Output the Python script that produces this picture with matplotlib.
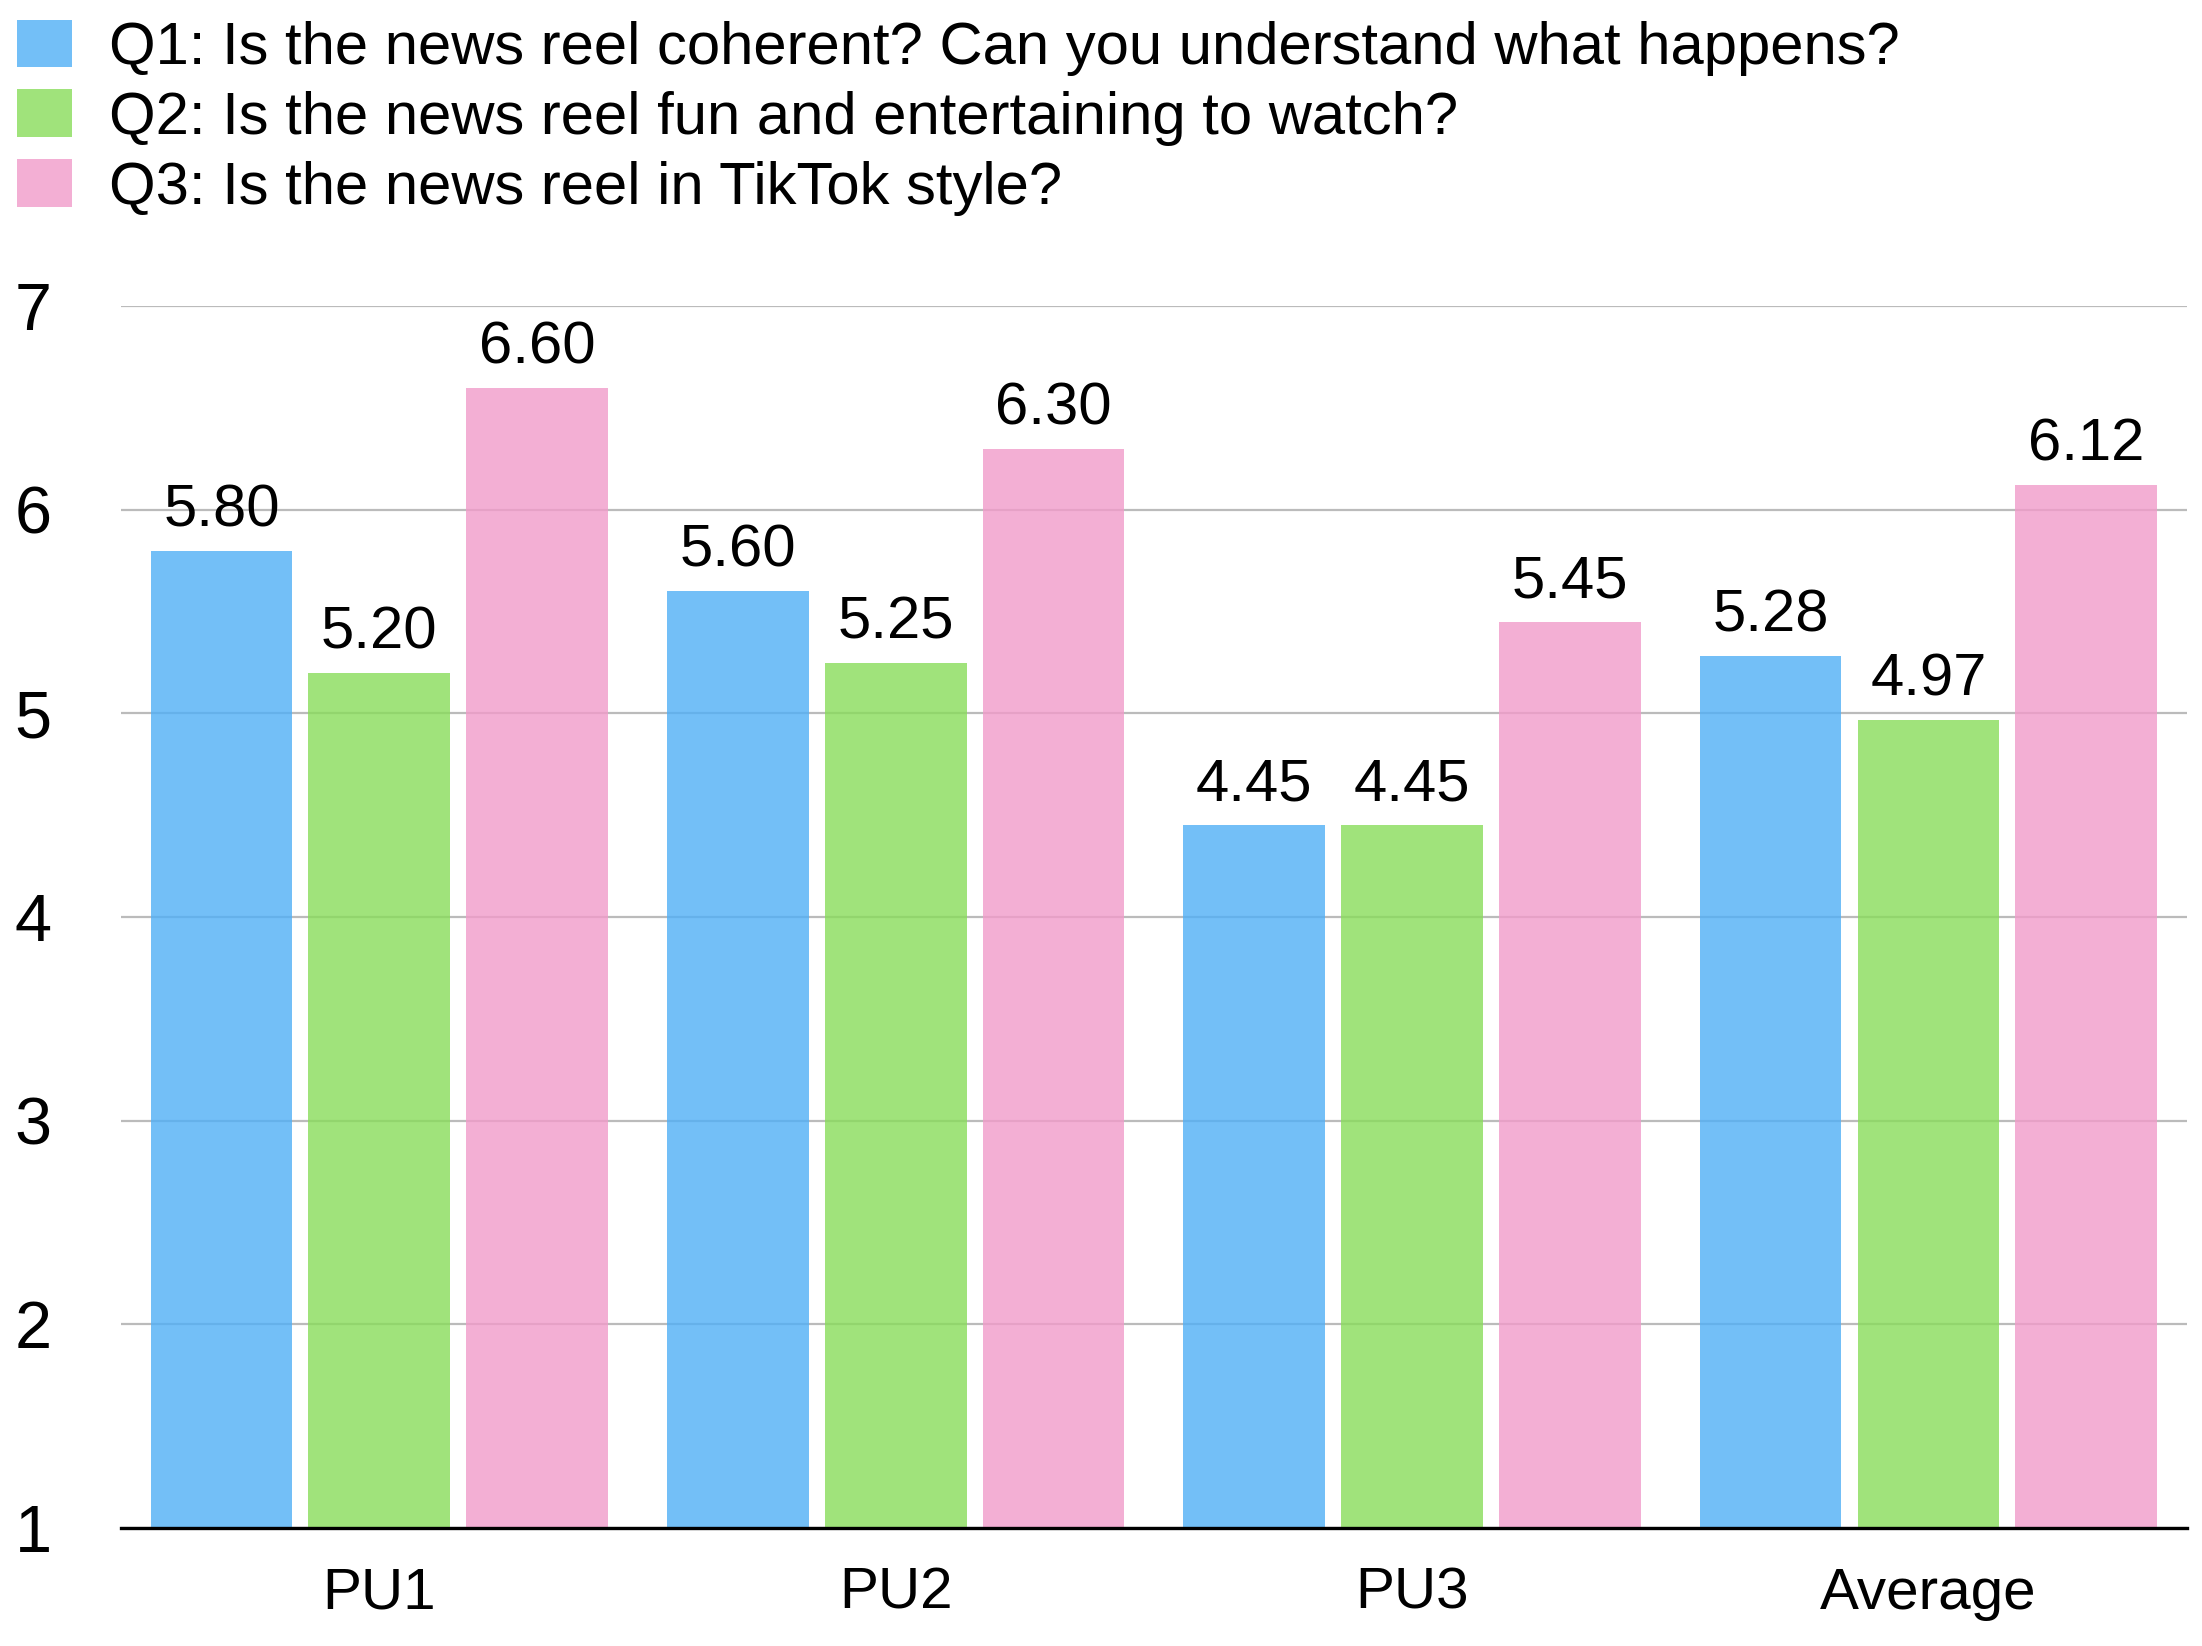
import numpy as np
import matplotlib.pyplot as plt

plt.rcParams['font.family'] = ['Liberation Sans', 'DejaVu Sans']

categories = ['PU1', 'PU2', 'PU3', 'Average']
q1_scores = [5.80, 5.60, 4.45, 5.28]
q2_scores = [5.20, 5.25, 4.45, 4.97]
q3_scores = [6.60, 6.30, 5.45, 6.12]
series_labels = [
    'Q1: Is the news reel coherent? Can you understand what happens?',
    'Q2: Is the news reel fun and entertaining to watch?',
    'Q3: Is the news reel in TikTok style?',
]
y_ticks = [1, 2, 3, 4, 5, 6, 7]

# slightly see-through bars, so the grid shows faintly through them
colors = ['#50AFF6', '#88DC5A', '#F19BCA']

fig = plt.figure(figsize=(11.01, 8.23), dpi=200)
ax = fig.add_axes([0.055, 0.0717, 0.938, 0.7423])

x = np.arange(len(categories))
width = 0.2745
step = 0.3057
handles = []
for i, (vals, col, lab) in enumerate(zip([q1_scores, q2_scores, q3_scores], colors, series_labels)):
    bars = ax.bar(x + (i - 1) * step, np.array(vals) - 1, width, bottom=1,
                  color=col, label=lab, zorder=2, alpha=0.8, linewidth=0)
    ax.bar_label(bars, labels=['%.2f' % v for v in vals], padding=4.5, fontsize=21.5)
    handles.append(bars)

ax.set_ylim(1, 7)
ax.set_xlim(-0.5, 3.5)
ax.set_yticks(y_ticks)
ax.set_yticklabels([str(t) for t in y_ticks], fontsize=24)
ax.set_xticks(x)
ax.set_xticklabels(categories, fontsize=21)
ax.tick_params(axis='y', length=0, pad=25)
ax.tick_params(axis='x', length=0, pad=14)
ax.grid(True, axis='y', color='#BBBBBB', linewidth=0.8, zorder=1)
ax.set_axisbelow(True)
for side in ['top', 'right', 'left']:
    ax.spines[side].set_visible(False)
ax.spines['bottom'].set_linewidth(1.2)
ax.spines['bottom'].set_color('black')
ax.spines['bottom'].set_zorder(3)

fig.legend(handles=handles, loc='upper left', bbox_to_anchor=(0.0075, 0.988),
           frameon=False, fontsize=21.5, handlelength=0.93, handleheight=0.85,
           handletextpad=0.62, labelspacing=0.22, borderpad=0, borderaxespad=0)

fig.savefig('out.png', dpi=200)
